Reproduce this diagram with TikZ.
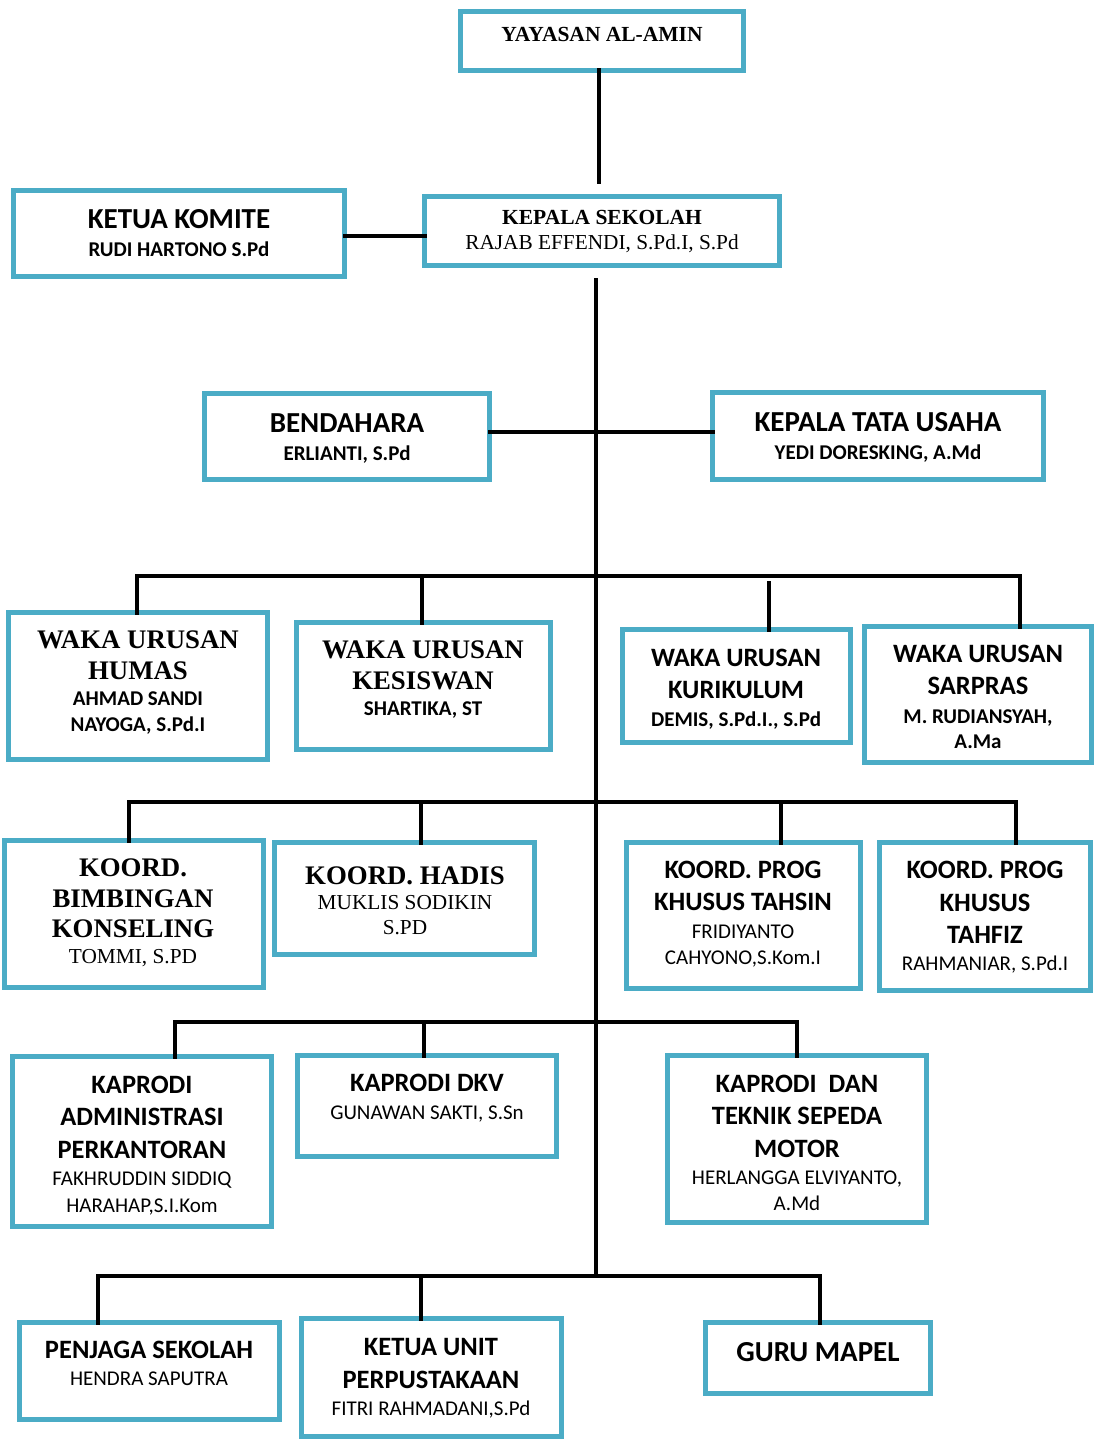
\documentclass[tikz,border=0pt]{standalone}
\usepackage{fontspec}
\newfontfamily\carl{Carlito}
\newfontfamily\tms{Liberation Serif}
\definecolor{boxc}{RGB}{75,172,198}
\tikzset{
 box/.style={draw=boxc, line width=4.6pt, fill=white, inner sep=0pt, outer sep=0pt, rectangle},
 conn/.style={draw=black, line width=4pt, line cap=rect, line join=miter},
 lbl/.style={anchor=base, inner sep=0pt, outer sep=0pt},
 sA/.style={lbl, font=\carl\bfseries\fontsize{29}{35}\selectfont},
 sB/.style={lbl, font=\carl\bfseries\fontsize{26.5}{32}\selectfont},
 sC/.style={lbl, font=\carl\bfseries\fontsize{21}{26}\selectfont},
 sD/.style={lbl, font=\carl\fontsize{21}{26}\selectfont},
 tA/.style={lbl, font=\tms\bfseries\fontsize{21.5}{25}\selectfont},
 tR/.style={lbl, font=\tms\fontsize{21.3}{25}\selectfont},
 tB/.style={lbl, font=\tms\bfseries\fontsize{26.8}{31}\selectfont},
}
\newcommand\bx[5]{\node[box, minimum width={(#4-#2)*1pt}, minimum height={(#5-#3)*1pt}] (#1) at ({(#2+#4)/2},{(#3+#5)/2}) {};}
\begin{document}
\begin{tikzpicture}[x=1pt,y=-1pt]
\useasboundingbox[fill=white] (0,0) rectangle (1096,1439);
% boxes
\bx{yay}{460.5}{11.5}{743.5}{70.5}
\bx{kom}{13.5}{190.5}{344.5}{276.5}
\bx{ks}{424.5}{196.5}{779.5}{265.5}
\bx{bend}{204.5}{393.5}{489.5}{479.5}
\bx{ktu}{712.5}{392.5}{1043.5}{479.5}
\bx{humas}{8.5}{612.5}{267.5}{759.5}
\bx{kesis}{296.5}{622.5}{550.5}{749.5}
\bx{kurik}{622.5}{629.5}{850.5}{742.5}
\bx{sarpr}{864.5}{626.5}{1091.5}{762.5}
\bx{bk}{4.5}{840.5}{263.5}{987.5}
\bx{hadis}{274.5}{842.5}{534.5}{954.5}
\bx{tahsin}{626.5}{842.5}{860.5}{988.5}
\bx{tahfiz}{879.5}{842.5}{1090.5}{990.5}
\bx{ap}{12.5}{1056.5}{271.5}{1226.5}
\bx{dkv}{297.5}{1055.5}{556.5}{1156.5}
\bx{tsm}{667.5}{1055.5}{926.5}{1222.5}
\bx{penj}{19.5}{1322.5}{279.5}{1419.5}
\bx{perp}{301.5}{1318.5}{561.5}{1436.5}
\bx{guru}{705.5}{1322.5}{930.5}{1393.5}
% texts
\node[tA] (yay-1) at (602,42) {YAYASAN AL-AMIN};
\node[sA] (kom-1) at (179,229) {KETUA KOMITE};
\node[sC] (kom-2) at (179,257) {RUDI HARTONO S.Pd};
\node[tA] (ks-1) at (602,225) {KEPALA SEKOLAH};
\node[tR] (ks-2) at (602,250) {RAJAB EFFENDI, S.Pd.I, S.Pd};
\node[sA] (bend-1) at (347,432) {BENDAHARA};
\node[sC] (bend-2) at (347,460) {ERLIANTI, S.Pd};
\node[sA] (ktu-1) at (878,431) {KEPALA TATA USAHA};
\node[sC] (ktu-2) at (878,459) {YEDI DORESKING, A.Md};
\node[tB] (humas-1) at (138,648) {WAKA URUSAN};
\node[tB] (humas-2) at (138,679) {HUMAS};
\node[sC] (humas-3) at (138,705) {AHMAD SANDI};
\node[sC] (humas-4) at (138,731) {NAYOGA, S.Pd.I};
\node[tB] (kesis-1) at (423,658) {WAKA URUSAN};
\node[tB] (kesis-2) at (423,689) {KESISWAN};
\node[sC] (kesis-3) at (423,715) {SHARTIKA, ST};
\node[sB] (kurik-1) at (736,666.5) {WAKA URUSAN};
\node[sB] (kurik-2) at (736,698.5) {KURIKULUM};
\node[sC] (kurik-3) at (736,726) {DEMIS, S.Pd.I., S.Pd};
\node[sB] (sarpr-1) at (978,662.5) {WAKA URUSAN};
\node[sB] (sarpr-2) at (978,694.5) {SARPRAS};
\node[sC] (sarpr-3) at (978,723) {M. RUDIANSYAH,};
\node[sC] (sarpr-4) at (978,748) {A.Ma};
\node[tB] (bk-1) at (133,876) {KOORD.};
\node[tB] (bk-2) at (133,907) {BIMBINGAN};
\node[tB] (bk-3) at (133,937) {KONSELING};
\node[tR] (bk-4) at (133,963) {TOMMI, S.PD};
\node[tB] (hadis-1) at (405,884) {KOORD. HADIS};
\node[tR] (hadis-2) at (405,909) {MUKLIS SODIKIN};
\node[tR] (hadis-3) at (405,934) {S.PD};
\node[sB] (tahsin-1) at (743,878.5) {KOORD. PROG};
\node[sB] (tahsin-2) at (743,910.5) {KHUSUS TAHSIN};
\node[sD] (tahsin-3) at (743,938) {FRIDIYANTO};
\node[sD] (tahsin-4) at (743,964) {CAHYONO,S.Kom.I};
\node[sB] (tahfiz-1) at (985,878.5) {KOORD. PROG};
\node[sB] (tahfiz-2) at (985,911.5) {KHUSUS};
\node[sB] (tahfiz-3) at (985,943.5) {TAHFIZ};
\node[sD] (tahfiz-4) at (985,970) {RAHMANIAR, S.Pd.I};
\node[sB] (ap-1) at (142,1093.5) {KAPRODI};
\node[sB] (ap-2) at (142,1125.5) {ADMINISTRASI};
\node[sB] (ap-3) at (142,1158.5) {PERKANTORAN};
\node[sD] (ap-4) at (142,1185) {FAKHRUDDIN SIDDIQ};
\node[sD] (ap-5) at (142,1212) {HARAHAP,S.I.Kom};
\node[sB] (dkv-1) at (427,1091.5) {KAPRODI DKV};
\node[sD] (dkv-2) at (427,1119) {GUNAWAN SAKTI, S.Sn};
\node[sB] (tsm-1) at (797,1092.5) {KAPRODI\ \ DAN};
\node[sB] (tsm-2) at (797,1124.5) {TEKNIK SEPEDA};
\node[sB] (tsm-3) at (797,1157.5) {MOTOR};
\node[sD] (tsm-4) at (797,1184) {HERLANGGA ELVIYANTO,};
\node[sD] (tsm-5) at (797,1210) {A.Md};
\node[sB] (penj-1) at (149,1358.5) {PENJAGA SEKOLAH};
\node[sD] (penj-2) at (149,1385) {HENDRA SAPUTRA};
\node[sB] (perp-1) at (431,1355.5) {KETUA UNIT};
\node[sB] (perp-2) at (431,1388.5) {PERPUSTAKAAN};
\node[sD] (perp-3) at (431,1415) {FITRI RAHMADANI,S.Pd};
\node[sA] (guru-1) at (818,1361) {GURU MAPEL};
% coordinates
\coordinate (k1) at (599,182);
\coordinate (t0) at (596,280);
\coordinate (t4) at (596,1276);
\coordinate (b1l) at (137,576);
\coordinate (b1r) at (1020,576);
\coordinate (d1b) at (422,576);
\coordinate (d1c) at (769,583);
\coordinate (b2l) at (129,802);
\coordinate (b2r) at (1016,802);
\coordinate (d2b) at (421,802);
\coordinate (d2c) at (781,802);
\coordinate (b3l) at (175,1022);
\coordinate (b3r) at (797,1022);
\coordinate (d3b) at (424,1022);
\coordinate (b4l) at (98,1276);
\coordinate (b4r) at (820,1276);
\coordinate (d4b) at (421,1276);
% connectors
\draw[conn] (yay.south -| k1) -- (k1);
\draw[conn] (kom.east |- 0,236) -- (ks.west |- 0,236);
\draw[conn] (t0) -- (t4);
\draw[conn] (bend.east |- 0,432) -- (ktu.west |- 0,432);
\draw[conn] (humas.north -| b1l) -- (b1l) -- (b1r) -- (sarpr.north -| b1r);
\draw[conn] (d1b) -- (kesis.north -| d1b);
\draw[conn] (d1c) -- (kurik.north -| d1c);
\draw[conn] (bk.north -| b2l) -- (b2l) -- (b2r) -- (tahfiz.north -| b2r);
\draw[conn] (d2b) -- (hadis.north -| d2b);
\draw[conn] (d2c) -- (tahsin.north -| d2c);
\draw[conn] (ap.north -| b3l) -- (b3l) -- (b3r) -- (tsm.north -| b3r);
\draw[conn] (d3b) -- (dkv.north -| d3b);
\draw[conn] (penj.north -| b4l) -- (b4l) -- (b4r) -- (guru.north -| b4r);
\draw[conn] (d4b) -- (perp.north -| d4b);
\end{tikzpicture}
\end{document}
